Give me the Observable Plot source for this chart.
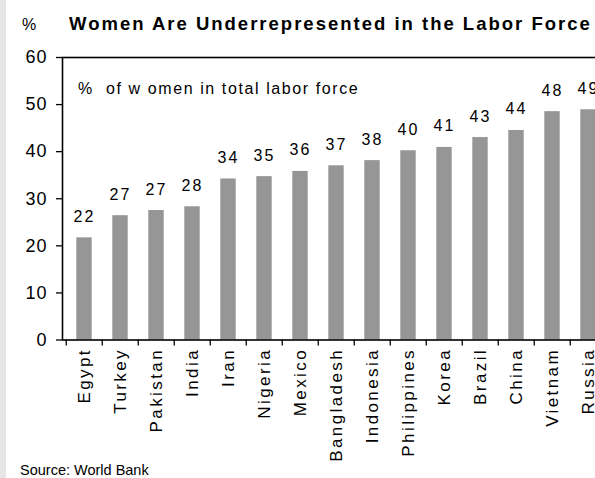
<!DOCTYPE html>
<html>
<head>
<meta charset="utf-8">
<script src="https://cdn.jsdelivr.net/npm/d3@7"></script>
<script src="https://cdn.jsdelivr.net/npm/@observablehq/plot@0.6"></script>
<style>
  html, body { margin: 0; padding: 0; background: #fff; overflow: hidden; }
  #wrap { position: relative; width: 595px; height: 478px; overflow: hidden; font-family: Arial, "Liberation Sans", sans-serif; color: #000; }
  #strip { position: absolute; left: 0; top: 0; width: 6px; height: 478px; background: #e6e6e6; }
  #chart { position: absolute; left: 0; top: 0; width: 620px; }
  #chart svg { max-width: none !important; }
  #chart g[aria-label="x-axis tick label"] { letter-spacing: 2.4px; }
  #chart g[aria-label="y-axis tick label"] { letter-spacing: 1px; }
  .t { position: absolute; white-space: nowrap; font-size: 16px; line-height: 1; }
  #unit { left: 22px; top: 17px; }
  #title { left: 69px; top: 15px; font-size: 18.5px; font-weight: bold; letter-spacing: 2px; }
  #note { left: 78px; top: 81px; letter-spacing: 1.6px; }
  #source { left: 20px; top: 463px; font-size: 14.5px; letter-spacing: 0px; }
</style>
</head>
<body>
<div id="wrap">
  <div id="strip"></div>
  <div id="chart"></div>
  <div class="t" id="unit">%</div>
  <div class="t" id="title">Women Are Underrepresented in the Labor Force</div>
  <div class="t" id="note">%&nbsp; of w omen in total labor force</div>
  <div class="t" id="source">Source: World Bank</div>
</div>
<script>
const countries = ["Egypt","Turkey","Pakistan","India","Iran","Nigeria","Mexico","Bangladesh","Indonesia","Philippines","Korea","Brazil","China","Vietnam","Russia"];
const shares = [21.7, 26.4, 27.5, 28.3, 34.2, 34.7, 35.8, 37.0, 38.1, 40.2, 40.9, 43.0, 44.5, 48.5, 48.9];
const shareLabels = ["22","27","27","28","34","35","36","37","38","40","41","43","44","48","49"];
const yTicks = [0, 10, 20, 30, 40, 50, 60];

const data = countries.map((c, i) => ({country: c, value: shares[i], label: shareLabels[i]}));

const W = 620, ML = 62, MR = 10;
const step = (W - ML - MR) / countries.length;

const chart = Plot.plot({
  width: W,
  height: 478,
  marginLeft: ML,
  marginRight: MR,
  marginTop: 57,
  marginBottom: 138.5,
  style: {fontFamily: 'Arial, "Liberation Sans", sans-serif', fontSize: "16px", color: "#000", background: "transparent", letterSpacing: "2px", maxWidth: "none"},
  x: {domain: countries, padding: 0, label: null},
  y: {domain: [0, 60], label: null},
  marks: [
    Plot.barY(data, {x: "country", y: "value", fill: "#969696", insetLeft: 10.3, insetRight: 10.3}),
    Plot.text(data, {x: "country", y: "value", text: "label", lineAnchor: "bottom", dy: -16, dx: 0, fontSize: 16, fill: "#000"}),
    Plot.frame({stroke: "#000", strokeWidth: 1.6}),
    Plot.axisY(yTicks, {tickSize: 6, tickPadding: 9, fontSize: 18, label: null, strokeWidth: 1.3}),
    Plot.axisX({tickSize: 6, dx: -step / 2, tickFormat: () => "", label: null, strokeWidth: 1.3}),
    Plot.axisX({tickSize: 0, tickPadding: 8, tickRotate: -90, fontSize: 17, label: null})
  ]
});
document.getElementById("chart").appendChild(chart);
</script>
</body>
</html>
